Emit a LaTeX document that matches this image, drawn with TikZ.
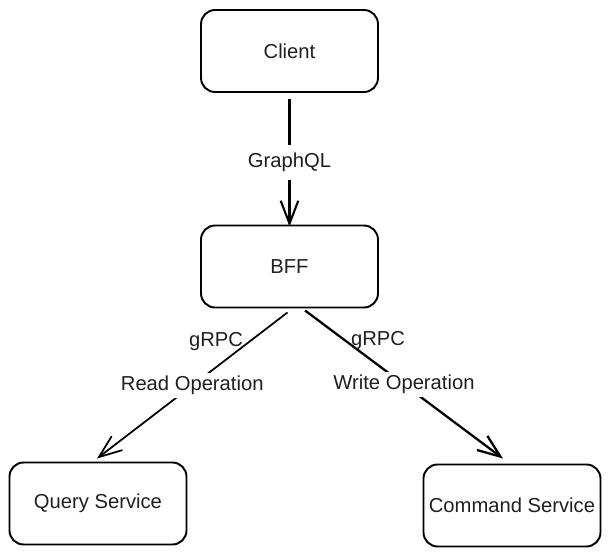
\documentclass[tikz,border=0pt]{standalone}
\usepackage{fontspec}
\setmainfont{Liberation Sans}
\usetikzlibrary{arrows.meta,positioning}
\begin{document}
\begin{tikzpicture}[x=0.02cm,y=-0.02cm,
  txt/.style={font=\fontsize{11.5}{13.5}\selectfont,text=black!88},
  box/.style={txt,draw,line width=1.1pt,rounded corners=8pt,minimum width=3.54cm,minimum height=1.64cm,inner sep=0pt},
  link/.style={-{Straight Barb[length=13pt,width=10pt]},line width=1.2pt},
  lbl/.style={txt,fill=white,inner sep=2pt}]
\useasboundingbox (0,0) rectangle (610,557);
\node[box] (client) at (289.5,51) {Client};
\node[box] (bff) at (289.5,266.5) {BFF};
\node[box] (query) at (98,503.5) {Query Service};
\node[box] (command) at (512,505.5) {Command Service};
\draw[link] ([shift={(0,6)}]client.south) -- node[lbl,inner sep=4.5pt] (graphql) {GraphQL} ([shift={(0,2)}]bff.north);
\draw[link,line width=1pt] ([shift={(-2,4)}]bff.south) -- node[lbl] (read) {Read Operation} ([shift={(-1,-3)}]query.north);
\draw[link,line width=1.3pt] ([shift={(15.5,2)}]bff.south) -- node[lbl] (write) {Write Operation} ([shift={(-9,-5)}]command.north);
\node[txt] (grpcread) at (216,342) {gRPC};
\node[txt] (grpcwrite) at (378,341) {gRPC};
\end{tikzpicture}
\end{document}
